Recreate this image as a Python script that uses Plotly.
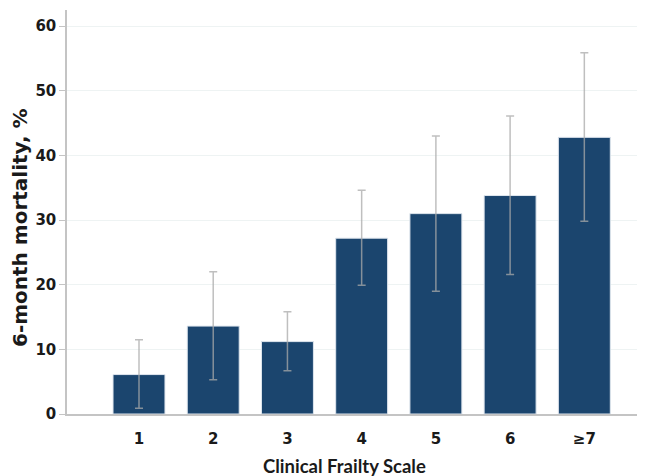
import plotly.graph_objects as go

categories = ["1", "2", "3", "4", "5", "6", "≥7"]
mortality = [6.1, 13.6, 11.2, 27.2, 31.0, 33.8, 42.8]
ci_low = [0.9, 5.3, 6.7, 19.9, 19.0, 21.6, 29.8]
ci_high = [11.5, 22.0, 15.8, 34.6, 43.0, 46.1, 55.9]
y_ticks = [0, 10, 20, 30, 40, 50, 60]

err_plus = [h - m for h, m in zip(ci_high, mortality)]
err_minus = [m - l for m, l in zip(mortality, ci_low)]

fig = go.Figure(
    go.Bar(
        x=list(range(len(categories))),
        y=mortality,
        width=0.7,
        marker=dict(color="#1b456e", line=dict(color="#dfe6ee", width=1)),
        error_y=dict(
            type="data",
            symmetric=False,
            array=err_plus,
            arrayminus=err_minus,
            color="rgba(170,170,170,0.75)",
            thickness=1.5,
            width=4,
        ),
    )
)

# page body has an 8px default margin, so the figure is sized to fit
fig.update_layout(
    width=637,
    height=468,
    margin=dict(l=59, r=5, t=2, b=62),
    plot_bgcolor="white",
    paper_bgcolor="white",
    showlegend=False,
    bargap=0.3,
    annotations=[
        dict(
            text="Clinical Frailty Scale",
            xref="paper", yref="paper",
            x=0.5, y=0, xanchor="center", yanchor="middle",
            yshift=-52, xshift=-9,
            showarrow=False,
            font=dict(family="Lato", size=18.5, color="#1a1a1a", weight="bold"),
        ),
        dict(
            text="6-month mortality, %",
            xref="paper", yref="paper",
            x=0, y=0.5, xanchor="center", yanchor="middle",
            xshift=-47, yshift=-16,
            textangle=-90,
            showarrow=False,
            font=dict(family="DejaVu Sans", size=20, color="#1a1a1a", weight="bold"),
        ),
    ],
)

fig.update_xaxes(
    range=[-0.97, 6.75],
    tickmode="array",
    tickvals=list(range(len(categories))),
    ticktext=categories,
    showgrid=False,
    showline=True,
    linecolor="#c4c4c4",
    linewidth=1.5,
    ticks="",
    ticklabelstandoff=10,
    tickfont=dict(family="DejaVu Sans", size=15, color="#1a1a1a", weight="bold"),
    automargin=False,
    zeroline=False,
)

fig.update_yaxes(
    range=[0, 62.5],
    tickvals=y_ticks,
    showgrid=True,
    gridcolor="#eef3f3",
    gridwidth=1,
    showline=True,
    linecolor="#c4c4c4",
    linewidth=1.5,
    ticks="outside",
    ticklen=6,
    tickcolor="#c4c4c4",
    tickfont=dict(family="DejaVu Sans", size=15, color="#1a1a1a", weight="bold"),
    automargin=False,
    zeroline=False,
)

fig.write_html("out.html")
